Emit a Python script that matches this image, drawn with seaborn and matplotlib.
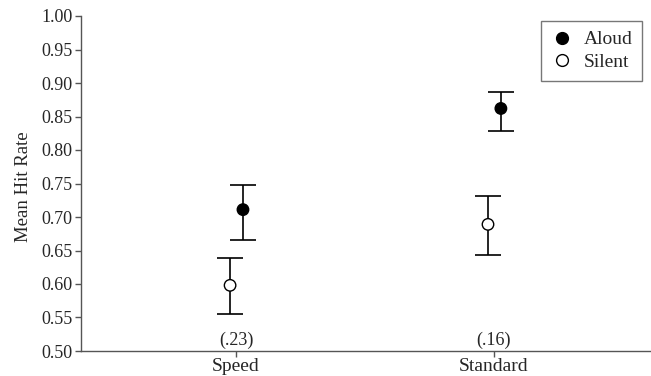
import matplotlib
matplotlib.use("Agg")
import matplotlib.pyplot as plt
import seaborn as sns
import pandas as pd
import numpy as np
from matplotlib.lines import Line2D

conditions = ["Speed", "Standard"]
voices = ["Aloud", "Silent"]
aloud_mean = [0.711, 0.862]
aloud_lo = [0.666, 0.828]
aloud_hi = [0.748, 0.887]
silent_mean = [0.598, 0.689]
silent_lo = [0.555, 0.643]
silent_hi = [0.639, 0.731]
annotations = ["(.23)", "(.16)"]
yticks = [0.50, 0.55, 0.60, 0.65, 0.70, 0.75, 0.80, 0.85, 0.90, 0.95, 1.00]

rows = []
for i, c in enumerate(conditions):
    rows.append(dict(condition=c, voice="Aloud", mean=aloud_mean[i], lo=aloud_lo[i], hi=aloud_hi[i]))
    rows.append(dict(condition=c, voice="Silent", mean=silent_mean[i], lo=silent_lo[i], hi=silent_hi[i]))
df = pd.DataFrame(rows)
offset = {"Aloud": 0.027, "Silent": -0.023}
df["x"] = df["condition"].map({c: i for i, c in enumerate(conditions)}) + df["voice"].map(offset)

sns.set_style("white")
plt.rcParams["font.family"] = ["Liberation Serif", "DejaVu Serif"]

fig = plt.figure(figsize=(6.51, 3.76), dpi=100)
ax = fig.add_axes([81 / 651, 1 - 351 / 376, 1 - 81 / 651, (351 - 16) / 376])

for _, r in df.iterrows():
    ax.errorbar(r["x"], r["mean"], yerr=[[r["mean"] - r["lo"]], [r["hi"] - r["mean"]]],
                fmt="none", ecolor="black", elinewidth=1.2, capsize=9.3, capthick=1.2, zorder=2)

sns.scatterplot(data=df, x="x", y="mean", hue="voice", palette={"Aloud": "black", "Silent": "white"},
                edgecolor="black", linewidth=1.0, s=68, ax=ax, legend=False, zorder=3)

for i, t in enumerate(annotations):
    ax.text(i, 0.516, t, ha="center", va="center", fontsize=13)

ax.set_xlim(-0.601, 1.609)
ax.set_ylim(0.5, 1.0)
ax.set_yticks(yticks)
ax.set_yticklabels([f"{v:.2f}" for v in yticks], fontsize=13)
ax.set_xticks(range(len(conditions)))
ax.set_xticklabels(conditions, fontsize=14)
ax.set_xlabel("")
ax.set_ylabel("Mean Hit Rate", fontsize=13.5)
ax.yaxis.set_label_coords(-0.086, 0.49)
ax.tick_params(axis="both", direction="out", length=4, width=1, color="#555555", pad=2, left=True, bottom=True)
ax.tick_params(axis="x", pad=1)
for s in ["top", "right"]:
    ax.spines[s].set_visible(False)
for s in ["left", "bottom"]:
    ax.spines[s].set_color("#555555")
    ax.spines[s].set_linewidth(1)

handles = [
    Line2D([], [], marker="o", linestyle="none", markerfacecolor="black", markeredgecolor="black", markersize=8.5),
    Line2D([], [], marker="o", linestyle="none", markerfacecolor="white", markeredgecolor="black", markersize=8.5),
]
leg = ax.legend(handles, voices, loc="upper right", bbox_to_anchor=(642 / 651, 1 - 21 / 376),
                bbox_transform=fig.transFigure, fancybox=False, frameon=True, fontsize=14,
                handletextpad=0.5, borderpad=0.5, labelspacing=0.25, handlelength=1.2, borderaxespad=0)
leg.get_frame().set_edgecolor("#555555")
leg.get_frame().set_linewidth(1)

fig.savefig("out.png", dpi=100)
